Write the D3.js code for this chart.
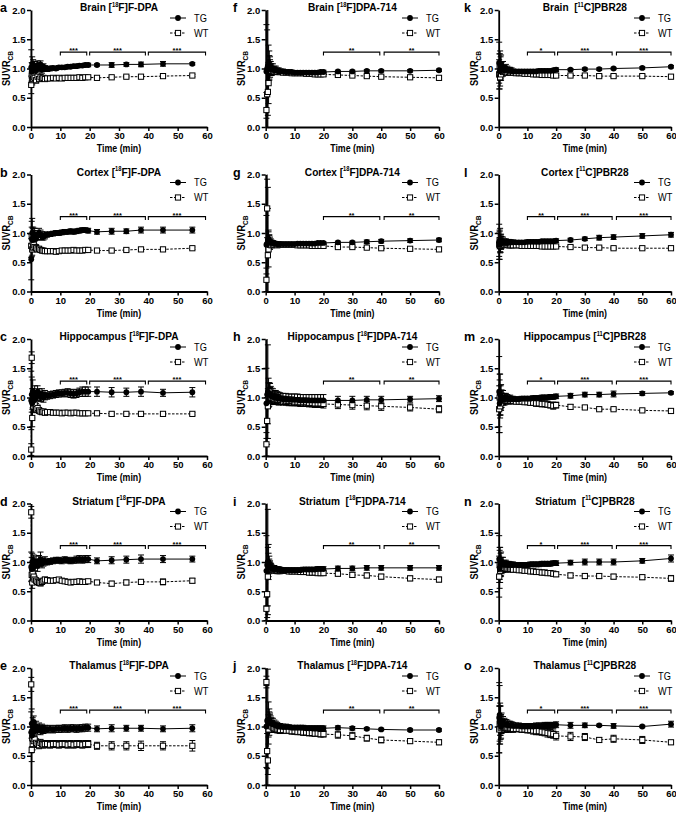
<!DOCTYPE html>
<html><head><meta charset="utf-8">
<script src="https://cdn.jsdelivr.net/npm/d3@7"></script>
<style>
body{margin:0;background:#fff}
svg{display:block}
text{font-family:"Liberation Sans",Arial,Helvetica,sans-serif;fill:#000}
</style>
</head><body>
<svg id="chart" width="676" height="813"></svg>
<script>
// ---------- time frames (min) per tracer ----------
const fdpaTime = [0.08,0.25,0.42,0.58,0.75,0.92, 1.25,1.75,2.25,2.75,3.25,3.75,4.25,4.75, 5.5,6.5,7.5,8.5,9.5, 10.5,11.5,12.5,13.5,14.5,15.5,16.5,17.5,18.5,19.5, 22.5,27.5,32.5,37.5,45,55];
const dpaTime  = [0.25,0.5,0.75,1,1.25,1.5,1.75,2, 2.5,3,3.5,4,4.5,5, 6,7,8,9,10,11,12,13,14,15,16,17,18,19,20, 25,30,35,40,50,60];
const pbrTime  = [0.17,0.33,0.5,0.67,0.83,1, 1.5,2,2.5,3,3.5,4,4.5,5, 6,7,8,9,10,11,12,13,14,15,16,17,18,19,20, 25,30,35,40,50,60];

// ---------- [18F]F-DPA ----------
const brainFdpaTG   = [1.02,0.95,1.08,0.98,1.05,0.96, 1.04,0.97,1.06,1.00,1.07,0.98,1.03,1.00, 0.99,1.00,1.01,1.00,1.02, 1.02,1.02,1.03,1.03,1.04,1.04,1.05,1.05,1.06,1.06, 1.06,1.06,1.07,1.07,1.08,1.08];
const brainFdpaTGe  = [0.30,0.15,0.12,0.10,0.10,0.08, 0.08,0.07,0.07,0.06,0.06,0.06,0.05,0.05, 0.04,0.04,0.03,0.03,0.03, 0.03,0.03,0.03,0.03,0.03,0.03,0.03,0.03,0.03,0.03, 0.02,0.04,0.03,0.04,0.04,0.02];
const brainFdpaWT   = [0.72,0.88,0.80,0.90,0.82,0.86, 0.84,0.80,0.86,0.82,0.85,0.83,0.84,0.82, 0.83,0.83,0.84,0.83,0.84, 0.83,0.84,0.84,0.84,0.84,0.84,0.85,0.84,0.85,0.85, 0.84,0.85,0.86,0.86,0.87,0.88];
const brainFdpaWTe  = [0.15,0.10,0.08,0.08,0.06,0.06, 0.05,0.05,0.04,0.04,0.04,0.03,0.03,0.03, 0.02,0.02,0.02,0.02,0.02, 0.02,0.02,0.02,0.02,0.02,0.02,0.02,0.02,0.02,0.02, 0.02,0.02,0.02,0.02,0.02,0.02];

const cortexFdpaTG  = [0.55,0.90,1.00,0.88,0.95,0.92, 0.98,0.90,0.96,1.00,0.97,0.95,0.94,0.96, 0.97,0.98,0.99,1.00,1.00, 1.01,1.02,1.02,1.03,1.02,1.03,1.04,1.05,1.05,1.04, 1.02,1.03,1.03,1.05,1.05,1.05];
const cortexFdpaTGe = [0.35,0.30,0.25,0.20,0.15,0.12, 0.10,0.10,0.08,0.08,0.08,0.07,0.06,0.06, 0.04,0.04,0.04,0.04,0.04, 0.04,0.04,0.04,0.04,0.04,0.04,0.04,0.04,0.04,0.04, 0.04,0.05,0.04,0.05,0.05,0.05];
const cortexFdpaWT  = [0.78,0.95,0.72,0.85,0.75,0.80, 0.76,0.74,0.72,0.73,0.71,0.70,0.70,0.69, 0.69,0.69,0.69,0.68,0.69, 0.70,0.70,0.70,0.70,0.71,0.70,0.70,0.70,0.71,0.71, 0.70,0.70,0.71,0.72,0.72,0.74];
const cortexFdpaWTe = [0.20,0.15,0.10,0.08,0.06,0.06, 0.05,0.05,0.04,0.04,0.04,0.03,0.03,0.03, 0.02,0.02,0.02,0.02,0.02, 0.02,0.02,0.02,0.02,0.02,0.02,0.02,0.02,0.02,0.02, 0.02,0.02,0.02,0.02,0.02,0.02];

const hippoFdpaTG   = [0.95,1.05,0.90,1.10,1.00,0.95, 1.08,1.00,1.10,1.05,1.02,1.06,1.00,1.04, 1.03,1.04,1.05,1.06,1.07, 1.07,1.08,1.08,1.07,1.06,1.07,1.09,1.10,1.10,1.10, 1.10,1.09,1.09,1.10,1.08,1.09];
const hippoFdpaTGe  = [0.50,0.30,0.25,0.20,0.15,0.12, 0.12,0.10,0.10,0.10,0.09,0.09,0.08,0.08, 0.06,0.06,0.06,0.06,0.06, 0.06,0.06,0.07,0.07,0.07,0.07,0.07,0.08,0.08,0.08, 0.08,0.08,0.07,0.08,0.06,0.08];
const hippoFdpaWT   = [0.11,1.68,0.65,0.95,0.85,0.90, 0.88,0.80,0.82,0.78,0.76,0.75,0.76,0.74, 0.75,0.75,0.74,0.74,0.74, 0.73,0.74,0.74,0.73,0.74,0.74,0.73,0.73,0.73,0.73, 0.73,0.72,0.72,0.72,0.72,0.72];
const hippoFdpaWTe  = [0.10,0.10,0.15,0.12,0.10,0.08, 0.06,0.06,0.05,0.05,0.04,0.04,0.04,0.04, 0.03,0.03,0.03,0.03,0.03, 0.03,0.03,0.03,0.03,0.03,0.03,0.03,0.03,0.03,0.03, 0.02,0.03,0.02,0.02,0.02,0.02];

const striatumFdpaTG  = [0.92,0.88,1.00,0.95,0.90,1.02, 0.95,1.00,0.93,1.02,1.05,0.98,1.00,1.02, 1.00,1.01,1.02,1.03,1.03, 1.02,1.04,1.03,1.02,1.03,1.04,1.05,1.04,1.05,1.05, 1.02,1.03,1.04,1.05,1.05,1.05];
const striatumFdpaTGe = [0.25,0.20,0.15,0.12,0.12,0.10, 0.10,0.10,0.09,0.09,0.12,0.08,0.07,0.07, 0.05,0.05,0.05,0.05,0.05, 0.05,0.05,0.05,0.05,0.05,0.06,0.06,0.06,0.06,0.06, 0.05,0.06,0.06,0.07,0.06,0.05];
const striatumFdpaWT  = [1.85,0.78,0.65,0.80,0.72,0.75, 0.70,0.68,0.66,0.65,0.64,0.66,0.68,0.70, 0.69,0.68,0.68,0.69,0.70, 0.68,0.67,0.66,0.65,0.66,0.66,0.67,0.66,0.66,0.67, 0.65,0.63,0.65,0.66,0.66,0.68];
const striatumFdpaWTe = [0.10,0.12,0.10,0.08,0.08,0.06, 0.06,0.05,0.05,0.05,0.05,0.04,0.04,0.04, 0.03,0.03,0.03,0.03,0.03, 0.03,0.03,0.03,0.03,0.03,0.03,0.03,0.03,0.03,0.03, 0.03,0.04,0.04,0.03,0.05,0.04];

const thalamusFdpaTG  = [0.90,1.05,0.85,1.00,0.95,1.08, 0.92,1.00,0.95,0.98,0.93,0.97,0.95,0.96, 0.95,0.96,0.95,0.96,0.96, 0.96,0.97,0.96,0.97,0.97,0.96,0.97,0.97,0.98,0.98, 0.96,0.97,0.97,0.97,0.96,0.97];
const thalamusFdpaTGe = [0.35,0.25,0.20,0.15,0.12,0.10, 0.10,0.09,0.08,0.08,0.07,0.07,0.07,0.06, 0.06,0.06,0.06,0.06,0.06, 0.06,0.06,0.06,0.06,0.06,0.06,0.06,0.06,0.06,0.06, 0.05,0.06,0.05,0.05,0.05,0.06];
const thalamusFdpaWT  = [1.72,0.60,0.80,0.70,0.85,0.75, 0.78,0.72,0.70,0.68,0.72,0.70,0.69,0.70, 0.70,0.69,0.70,0.70,0.69, 0.70,0.70,0.69,0.70,0.69,0.70,0.70,0.69,0.70,0.70, 0.67,0.67,0.67,0.67,0.67,0.67];
const thalamusFdpaWTe = [0.12,0.20,0.15,0.10,0.08,0.08, 0.07,0.07,0.06,0.06,0.06,0.06,0.06,0.06, 0.06,0.06,0.06,0.06,0.06, 0.06,0.06,0.06,0.06,0.06,0.06,0.06,0.06,0.06,0.06, 0.06,0.07,0.07,0.08,0.07,0.09];

// ---------- [18F]DPA-714 ----------
const brainDpaTG   = [0.95,1.00,1.05,1.10,1.02,1.05,1.00,0.98, 1.00,0.97,0.98,0.96,0.96,0.95, 0.95,0.94,0.94,0.94,0.93,0.93,0.93,0.93,0.93,0.93,0.93,0.93,0.93,0.94,0.94, 0.95,0.95,0.96,0.96,0.96,0.97];
const brainDpaTGe  = [0.80,1.20,1.10,0.30,0.20,0.15,0.12,0.10, 0.08,0.07,0.06,0.05,0.05,0.04, 0.04,0.03,0.03,0.03,0.03,0.03,0.03,0.03,0.03,0.03,0.03,0.03,0.03,0.03,0.03, 0.02,0.02,0.02,0.02,0.02,0.02];
const brainDpaWT   = [0.29,0.56,0.60,0.75,1.05,1.00,0.98,0.96, 0.96,0.95,0.95,0.94,0.94,0.94, 0.93,0.93,0.93,0.92,0.92,0.92,0.92,0.92,0.91,0.91,0.91,0.90,0.90,0.90,0.90, 0.89,0.88,0.87,0.86,0.85,0.84];
const brainDpaWTe  = [0.30,1.10,0.40,0.35,0.25,0.15,0.10,0.08, 0.06,0.05,0.05,0.04,0.04,0.04, 0.03,0.03,0.03,0.03,0.03,0.03,0.03,0.03,0.03,0.03,0.03,0.03,0.03,0.03,0.03, 0.02,0.02,0.02,0.02,0.02,0.02];

const cortexDpaTG  = [0.80,0.82,0.88,0.90,0.86,0.85,0.84,0.83, 0.83,0.82,0.82,0.81,0.81,0.81, 0.81,0.81,0.81,0.81,0.81,0.82,0.82,0.82,0.82,0.82,0.82,0.82,0.83,0.83,0.83, 0.84,0.84,0.85,0.86,0.87,0.88];
const cortexDpaTGe = [0.50,1.20,0.90,0.15,0.10,0.08,0.06,0.05, 0.04,0.04,0.03,0.03,0.03,0.03, 0.02,0.02,0.02,0.02,0.02,0.02,0.02,0.02,0.02,0.02,0.02,0.02,0.02,0.02,0.02, 0.02,0.02,0.03,0.03,0.03,0.03];
const cortexDpaWT  = [0.20,1.42,0.62,0.72,0.85,0.80,0.80,0.79, 0.80,0.80,0.80,0.79,0.80,0.80, 0.80,0.80,0.80,0.80,0.80,0.79,0.79,0.79,0.79,0.79,0.78,0.78,0.78,0.78,0.78, 0.76,0.76,0.75,0.74,0.73,0.72];
const cortexDpaWTe = [0.20,0.50,0.80,0.30,0.12,0.08,0.05,0.04, 0.03,0.03,0.03,0.03,0.03,0.03, 0.02,0.02,0.02,0.02,0.02,0.02,0.02,0.02,0.02,0.02,0.02,0.02,0.02,0.02,0.02, 0.02,0.02,0.02,0.02,0.02,0.02];

const hippoDpaTG   = [0.90,1.05,1.10,1.08,1.05,1.06,1.04,1.02, 1.02,1.00,1.00,0.99,0.98,0.98, 0.97,0.97,0.96,0.96,0.96,0.96,0.95,0.95,0.95,0.95,0.95,0.95,0.95,0.95,0.95, 0.95,0.95,0.96,0.96,0.97,0.98];
const hippoDpaTGe  = [0.60,1.10,0.80,0.25,0.20,0.18,0.15,0.14, 0.13,0.12,0.12,0.11,0.11,0.10, 0.10,0.10,0.10,0.10,0.10,0.10,0.10,0.10,0.10,0.10,0.10,0.10,0.10,0.10,0.10, 0.07,0.07,0.06,0.06,0.05,0.05];
const hippoDpaWT   = [0.20,0.60,0.85,1.05,1.10,1.05,1.02,1.00, 0.99,0.98,0.97,0.97,0.96,0.96, 0.95,0.95,0.94,0.94,0.93,0.93,0.92,0.92,0.92,0.91,0.91,0.90,0.90,0.90,0.89, 0.88,0.87,0.86,0.85,0.83,0.80];
const hippoDpaWTe  = [0.20,0.40,0.30,0.20,0.15,0.12,0.10,0.10, 0.09,0.09,0.08,0.08,0.08,0.08, 0.07,0.07,0.07,0.07,0.07,0.07,0.07,0.07,0.07,0.07,0.07,0.07,0.07,0.07,0.07, 0.07,0.07,0.07,0.07,0.06,0.06];

const striatumDpaTG  = [0.85,0.95,1.00,1.00,0.95,0.92,0.90,0.89, 0.88,0.88,0.87,0.87,0.87,0.86, 0.86,0.86,0.86,0.86,0.86,0.86,0.86,0.87,0.87,0.87,0.87,0.87,0.88,0.88,0.88, 0.89,0.89,0.90,0.90,0.90,0.90];
const striatumDpaTGe = [0.60,1.10,0.90,0.30,0.15,0.10,0.08,0.07, 0.06,0.06,0.05,0.05,0.05,0.05, 0.04,0.04,0.04,0.04,0.04,0.04,0.04,0.04,0.04,0.04,0.04,0.04,0.04,0.04,0.04, 0.04,0.04,0.04,0.04,0.04,0.04];
const striatumDpaWT  = [0.20,0.45,0.75,0.95,0.95,0.92,0.90,0.88, 0.87,0.86,0.86,0.85,0.85,0.85, 0.85,0.85,0.84,0.84,0.84,0.84,0.83,0.83,0.83,0.82,0.82,0.82,0.81,0.81,0.81, 0.80,0.78,0.77,0.75,0.72,0.70];
const striatumDpaWTe = [0.20,0.40,0.50,0.20,0.10,0.08,0.07,0.06, 0.05,0.05,0.05,0.05,0.05,0.05, 0.04,0.04,0.04,0.04,0.04,0.04,0.04,0.04,0.04,0.04,0.04,0.04,0.04,0.04,0.04, 0.04,0.04,0.04,0.04,0.04,0.04];

const thalamusDpaTG  = [1.00,1.10,1.08,1.12,1.10,1.08,1.06,1.05, 1.04,1.03,1.02,1.01,1.00,1.00, 0.99,0.99,0.99,0.98,0.98,0.98,0.98,0.98,0.97,0.97,0.97,0.97,0.97,0.97,0.97, 0.98,0.97,0.96,0.95,0.94,0.94];
const thalamusDpaTGe = [0.70,1.10,0.90,0.30,0.20,0.15,0.12,0.10, 0.10,0.08,0.07,0.06,0.05,0.05, 0.05,0.05,0.04,0.04,0.04,0.04,0.04,0.04,0.04,0.04,0.04,0.04,0.04,0.04,0.04, 0.03,0.03,0.02,0.02,0.02,0.02];
const thalamusDpaWT  = [1.76,0.58,0.42,0.95,1.05,1.05,1.02,1.00, 0.98,0.97,0.96,0.95,0.95,0.94, 0.94,0.93,0.93,0.92,0.92,0.91,0.91,0.90,0.90,0.89,0.89,0.88,0.88,0.87,0.87, 0.86,0.84,0.80,0.77,0.75,0.73];
const thalamusDpaWTe = [0.10,0.30,0.60,0.25,0.20,0.15,0.12,0.10, 0.08,0.07,0.06,0.06,0.06,0.06, 0.05,0.05,0.05,0.05,0.05,0.05,0.05,0.05,0.05,0.05,0.05,0.05,0.05,0.05,0.05, 0.06,0.06,0.05,0.05,0.04,0.04];

// ---------- [11C]PBR28 ----------
const brainPbrTG   = [1.10,0.95,1.05,1.00,1.08,0.98, 1.02,0.97,1.00,0.98,0.96,0.97,0.96,0.95, 0.95,0.95,0.95,0.95,0.95,0.95,0.95,0.95,0.96,0.96,0.96,0.96,0.96,0.97,0.98, 0.98,0.99,0.99,1.00,1.01,1.03];
const brainPbrTGe  = [0.35,0.30,0.25,0.20,0.15,0.12, 0.10,0.08,0.07,0.06,0.06,0.05,0.05,0.04, 0.03,0.03,0.03,0.03,0.03,0.03,0.03,0.03,0.03,0.03,0.03,0.03,0.03,0.03,0.03, 0.02,0.02,0.02,0.02,0.02,0.02];
const brainPbrWT   = [0.90,1.05,0.85,0.95,0.90,0.98, 0.94,0.96,0.94,0.93,0.94,0.93,0.93,0.93, 0.92,0.92,0.92,0.91,0.91,0.91,0.90,0.90,0.90,0.89,0.89,0.89,0.89,0.88,0.88, 0.88,0.88,0.87,0.87,0.87,0.86];
const brainPbrWTe  = [0.25,0.20,0.15,0.12,0.10,0.08, 0.07,0.06,0.05,0.05,0.04,0.04,0.04,0.03, 0.03,0.03,0.03,0.03,0.03,0.03,0.03,0.03,0.03,0.03,0.03,0.03,0.03,0.03,0.03, 0.02,0.02,0.02,0.02,0.02,0.02];

const cortexPbrTG  = [0.85,0.80,0.88,0.82,0.86,0.84, 0.85,0.83,0.84,0.83,0.84,0.84,0.84,0.84, 0.84,0.84,0.84,0.84,0.85,0.85,0.85,0.85,0.85,0.86,0.86,0.86,0.86,0.86,0.87, 0.88,0.90,0.92,0.93,0.95,0.97];
const cortexPbrTGe = [0.30,0.25,0.20,0.15,0.12,0.10, 0.08,0.07,0.06,0.05,0.05,0.04,0.04,0.04, 0.03,0.03,0.03,0.03,0.03,0.03,0.03,0.03,0.03,0.03,0.03,0.03,0.03,0.03,0.03, 0.03,0.03,0.04,0.04,0.04,0.04];
const cortexPbrWT  = [0.80,0.88,0.78,0.85,0.80,0.82, 0.81,0.80,0.80,0.80,0.79,0.79,0.79,0.79, 0.79,0.79,0.78,0.78,0.78,0.78,0.78,0.78,0.78,0.77,0.77,0.77,0.77,0.77,0.77, 0.76,0.75,0.75,0.74,0.74,0.74];
const cortexPbrWTe = [0.20,0.15,0.12,0.10,0.08,0.06, 0.05,0.05,0.04,0.04,0.04,0.03,0.03,0.03, 0.02,0.02,0.02,0.02,0.02,0.02,0.02,0.02,0.02,0.02,0.02,0.02,0.02,0.02,0.02, 0.02,0.02,0.02,0.02,0.02,0.02];

const hippoPbrTG   = [1.10,0.90,1.05,0.95,1.02,0.98, 1.00,0.97,0.99,0.98,0.97,0.98,0.97,0.97, 0.97,0.97,0.98,0.98,0.98,0.98,0.99,0.99,0.99,1.00,1.00,1.00,1.01,1.01,1.02, 1.03,1.05,1.05,1.06,1.07,1.08];
const hippoPbrTGe  = [0.60,0.50,0.35,0.25,0.20,0.15, 0.12,0.10,0.08,0.07,0.06,0.06,0.05,0.05, 0.04,0.04,0.04,0.04,0.04,0.04,0.04,0.04,0.04,0.04,0.04,0.04,0.04,0.04,0.04, 0.04,0.04,0.04,0.05,0.03,0.02];
const hippoPbrWT   = [0.80,1.00,0.85,0.95,0.90,0.98, 0.95,0.96,0.95,0.95,0.94,0.94,0.94,0.94, 0.93,0.93,0.93,0.92,0.92,0.91,0.91,0.90,0.90,0.89,0.89,0.88,0.87,0.86,0.87, 0.84,0.83,0.80,0.80,0.78,0.77];
const hippoPbrWTe  = [0.40,0.30,0.20,0.15,0.12,0.10, 0.08,0.07,0.06,0.05,0.05,0.05,0.04,0.04, 0.04,0.04,0.04,0.04,0.04,0.04,0.04,0.05,0.05,0.05,0.05,0.05,0.05,0.06,0.05, 0.04,0.03,0.02,0.02,0.02,0.02];

const striatumPbrTG  = [1.05,0.90,1.00,0.95,1.02,0.96, 0.98,0.95,0.96,0.95,0.95,0.95,0.95,0.95, 0.95,0.95,0.95,0.95,0.95,0.96,0.96,0.96,0.96,0.97,0.97,0.97,0.97,0.98,0.98, 0.99,1.00,1.00,1.00,1.02,1.06];
const striatumPbrTGe = [0.40,0.35,0.25,0.20,0.15,0.12, 0.10,0.08,0.07,0.06,0.06,0.05,0.05,0.05, 0.04,0.04,0.04,0.04,0.04,0.04,0.04,0.04,0.04,0.04,0.04,0.04,0.04,0.04,0.04, 0.04,0.05,0.05,0.05,0.04,0.06];
const striatumPbrWT  = [0.75,0.95,0.85,0.92,0.88,0.90, 0.90,0.90,0.89,0.89,0.88,0.88,0.88,0.87, 0.87,0.86,0.86,0.85,0.85,0.84,0.84,0.83,0.83,0.82,0.82,0.81,0.81,0.80,0.79, 0.77,0.76,0.76,0.75,0.74,0.72];
const striatumPbrWTe = [0.35,0.25,0.20,0.15,0.12,0.10, 0.08,0.07,0.06,0.05,0.05,0.05,0.04,0.04, 0.04,0.04,0.04,0.04,0.04,0.04,0.04,0.04,0.04,0.04,0.04,0.04,0.04,0.04,0.04, 0.04,0.04,0.04,0.04,0.04,0.05];

const thalamusPbrTG  = [1.15,1.20,1.05,1.10,1.00,1.08, 1.05,1.04,1.03,1.03,1.02,1.02,1.02,1.01, 1.01,1.01,1.00,1.00,1.00,1.00,1.00,1.01,1.01,1.01,1.02,1.02,1.02,1.02,1.03, 1.02,1.02,1.02,1.01,1.00,1.04];
const thalamusPbrTGe = [0.60,0.50,0.35,0.25,0.20,0.15, 0.12,0.10,0.09,0.08,0.07,0.07,0.06,0.06, 0.05,0.05,0.05,0.05,0.05,0.05,0.05,0.05,0.05,0.05,0.05,0.05,0.05,0.05,0.05, 0.05,0.04,0.02,0.04,0.02,0.05];
const thalamusPbrWT  = [0.95,1.05,1.10,0.98,1.05,1.00, 1.00,0.99,0.98,0.98,0.97,0.97,0.97,0.96, 0.96,0.96,0.95,0.95,0.94,0.94,0.93,0.92,0.92,0.91,0.90,0.89,0.88,0.87,0.84, 0.83,0.82,0.77,0.79,0.77,0.73];
const thalamusPbrWTe = [0.40,0.30,0.25,0.20,0.15,0.12, 0.10,0.09,0.08,0.07,0.07,0.06,0.06,0.06, 0.05,0.05,0.05,0.05,0.05,0.05,0.06,0.06,0.06,0.06,0.06,0.07,0.07,0.07,0.07, 0.07,0.06,0.04,0.06,0.06,0.03];

// ---------- labels ----------
const panelLetters = ["a","b","c","d","e","f","g","h","i","j","k","l","m","n","o"];
const panelTitles = [
  "Brain [|18|F]F-DPA","Cortex [|18|F]F-DPA","Hippocampus [|18|F]F-DPA","Striatum [|18|F]F-DPA","Thalamus [|18|F]F-DPA",
  "Brain [|18|F]DPA-714","Cortex [|18|F]DPA-714","Hippocampus [|18|F]DPA-714","Striatum  [|18|F]DPA-714","Thalamus [|18|F]DPA-714",
  "Brain  [|11|C]PBR28","Cortex [|11|C]PBR28","Hippocampus [|11|C]PBR28","Striatum  [|11|C]PBR28","Thalamus [|11|C]PBR28"
];
const seriesNames = ["TG","WT"];
const xTicks = [0,10,20,30,40,50,60];
const yTicks = [0,0.5,1.0,1.5,2.0];
const xLabel = "Time (min)";
const fdpaBrackets = [[10,19],[20,39],[40,59.5]];
const dpaBrackets  = [[20,39.5],[41,60]];
const pbrBrackets  = [[10,19.5],[20.5,39.5],[41,60]];
const fdpaStars = ["***","***","***"];
const dpaStars  = ["**","**"];
const pbrStars  = [["*","***","***"],["**","***","***"],["*","***","***"],["*","***","***"],["*","***","***"]];

const tgData = [brainFdpaTG,cortexFdpaTG,hippoFdpaTG,striatumFdpaTG,thalamusFdpaTG,
                brainDpaTG,cortexDpaTG,hippoDpaTG,striatumDpaTG,thalamusDpaTG,
                brainPbrTG,cortexPbrTG,hippoPbrTG,striatumPbrTG,thalamusPbrTG];
const tgErr  = [brainFdpaTGe,cortexFdpaTGe,hippoFdpaTGe,striatumFdpaTGe,thalamusFdpaTGe,
                brainDpaTGe,cortexDpaTGe,hippoDpaTGe,striatumDpaTGe,thalamusDpaTGe,
                brainPbrTGe,cortexPbrTGe,hippoPbrTGe,striatumPbrTGe,thalamusPbrTGe];
const wtData = [brainFdpaWT,cortexFdpaWT,hippoFdpaWT,striatumFdpaWT,thalamusFdpaWT,
                brainDpaWT,cortexDpaWT,hippoDpaWT,striatumDpaWT,thalamusDpaWT,
                brainPbrWT,cortexPbrWT,hippoPbrWT,striatumPbrWT,thalamusPbrWT];
const wtErr  = [brainFdpaWTe,cortexFdpaWTe,hippoFdpaWTe,striatumFdpaWTe,thalamusFdpaWTe,
                brainDpaWTe,cortexDpaWTe,hippoDpaWTe,striatumDpaWTe,thalamusDpaWTe,
                brainPbrWTe,cortexPbrWTe,hippoPbrWTe,striatumPbrWTe,thalamusPbrWTe];
const tracerTimes = [fdpaTime,dpaTime,pbrTime];

// ---------- layout ----------
const colX0 = [31,265.7,498.7], colX1 = [207,439,671], letterX = [0,233,464];
const rowTop = r => 10 + r*164.5;
const plotH = 117;
const SQ = 0.88; // horizontal compression of figure text
const svg = d3.select("#chart");

function compText(g, x, y, anchor, size, weight, str, rot) {
  const t = g.append("text")
    .attr("transform", `translate(${x},${y})` + (rot ? ` rotate(${rot})` : "") + ` scale(${SQ},1)`)
    .attr("text-anchor", anchor).style("font-size", size + "px").style("font-weight", weight)
    .style("white-space", "pre");
  if (str !== undefined) t.text(str);
  return t;
}

for (let i = 0; i < 15; i++) {
  const col = Math.floor(i / 5), row = i % 5;
  const top = rowTop(row), bot = top + plotH;
  const x = d3.scaleLinear().domain([0,60]).range([colX0[col], colX1[col]]);
  const y = d3.scaleLinear().domain([0,2]).range([bot, top]);
  const clampY = v => y(Math.max(0, Math.min(2, v)));
  const times = tracerTimes[col];
  const g = svg.append("g");

  // letter
  g.append("text").attr("x", letterX[col]).attr("y", top + 2)
    .style("font-size","12.5px").style("font-weight","bold").text(panelLetters[i]);

  // title
  const parts = panelTitles[i].split("|");
  const tt = compText(g, (colX0[col]+colX1[col])/2, top + 1, "middle", 11.5, "bold");
  tt.append("tspan").text(parts[0]);
  tt.append("tspan").attr("dy", -4.5).style("font-size","6.5px").text(parts[1]);
  tt.append("tspan").attr("dy", 4.5).text(parts[2]);

  // axes
  const ya = g.append("g").attr("transform", `translate(${colX0[col]},0)`)
    .call(d3.axisLeft(y).tickValues(yTicks).tickFormat(d3.format(".1f")).tickSize(4).tickSizeOuter(0).tickPadding(1.5));
  const xa = g.append("g").attr("transform", `translate(0,${bot})`)
    .call(d3.axisBottom(x).tickValues(xTicks).tickFormat(d3.format("d")).tickSize(4).tickSizeOuter(0).tickPadding(1.5));
  [ya, xa].forEach(a => {
    a.select(".domain").attr("stroke","#000").attr("stroke-width",1.8);
    a.selectAll(".tick line").attr("stroke","#000").attr("stroke-width",1.5);
    a.selectAll(".tick text").style("font-size","9.5px").style("font-weight","bold")
      .style("font-family",'"Liberation Sans",Arial,sans-serif').attr("fill","#000");
  });

  // axis titles
  compText(g, (colX0[col]+colX1[col])/2, bot + 25, "middle", 10, "bold", xLabel);
  const yl = compText(g, colX0[col] - 21, (top+bot)/2, "middle", 10.5, "bold", undefined, -90);
  yl.append("tspan").text("SUVR");
  yl.append("tspan").attr("dy", 3).style("font-size","7.5px").text("CB");

  // significance brackets
  const br = col === 0 ? fdpaBrackets : col === 1 ? dpaBrackets : pbrBrackets;
  const st = col === 0 ? fdpaStars : col === 1 ? dpaStars : pbrStars[row];
  br.forEach((b, k) => {
    const by = y(1.28);
    g.append("path").attr("fill","none").attr("stroke","#000").attr("stroke-width",1.1)
      .attr("d", `M${x(b[0])},${by+3.5}V${by}H${x(b[1])}V${by+3.5}`);
    g.append("text").attr("x", (x(b[0])+x(b[1]))/2).attr("y", by + 1.2)
      .attr("text-anchor","middle").style("font-size","7.5px").style("font-weight","bold").text(st[k]);
  });

  const series = [
    {name: seriesNames[1], vals: wtData[i], errs: wtErr[i], dash: "2.5,1.5"},
    {name: seriesNames[0], vals: tgData[i], errs: tgErr[i], dash: null}
  ];
  // error bars
  series.forEach(s => {
    const eb = g.append("g").attr("stroke","#000").attr("stroke-width",1);
    s.vals.forEach((v, k) => {
      const t = times[k], e = s.errs[k];
      const lo = v - e, hi = v + e, px = x(t);
      eb.append("line").attr("x1",px).attr("x2",px).attr("y1",clampY(lo)).attr("y2",clampY(hi));
      if (hi <= 2) eb.append("line").attr("x1",px-3).attr("x2",px+3).attr("y1",y(hi)).attr("y2",y(hi));
      if (lo >= 0) eb.append("line").attr("x1",px-3).attr("x2",px+3).attr("y1",y(lo)).attr("y2",y(lo));
    });
  });
  // lines
  series.forEach(s => {
    const line = d3.line().x((v,k) => x(times[k])).y(v => clampY(v));
    g.append("path").attr("d", line(s.vals)).attr("fill","none").attr("stroke","#000")
      .attr("stroke-width",1).attr("stroke-dasharray", s.dash);
  });
  // markers
  g.append("g").selectAll("rect").data(wtData[i]).join("rect")
    .attr("x",(v,k) => x(times[k]) - 2.6).attr("y", v => clampY(v) - 2.6)
    .attr("width",5.2).attr("height",5.2).attr("fill","#fff").attr("stroke","#000").attr("stroke-width",1);
  g.append("g").selectAll("circle").data(tgData[i]).join("circle")
    .attr("cx",(v,k) => x(times[k])).attr("cy", v => clampY(v)).attr("r",2.9).attr("fill","#000");

  // legend
  const lx = colX1[col] - 29, tx = colX1[col] - 13;
  const ly1 = top + 8, ly2 = top + 23;
  g.append("line").attr("x1",lx-8).attr("x2",lx+8).attr("y1",ly1).attr("y2",ly1).attr("stroke","#000").attr("stroke-width",1);
  g.append("circle").attr("cx",lx).attr("cy",ly1).attr("r",2.9).attr("fill","#000");
  g.append("line").attr("x1",lx-8).attr("x2",lx+8).attr("y1",ly2).attr("y2",ly2).attr("stroke","#000")
    .attr("stroke-width",1).attr("stroke-dasharray","2.5,1.5");
  g.append("rect").attr("x",lx-2.6).attr("y",ly2-2.6).attr("width",5.2).attr("height",5.2)
    .attr("fill","#fff").attr("stroke","#000").attr("stroke-width",1);
  compText(g, tx, ly1 + 3.8, "start", 10.5, "normal", seriesNames[0]);
  compText(g, tx, ly2 + 3.8, "start", 10.5, "normal", seriesNames[1]);
}
</script>
</body></html>
